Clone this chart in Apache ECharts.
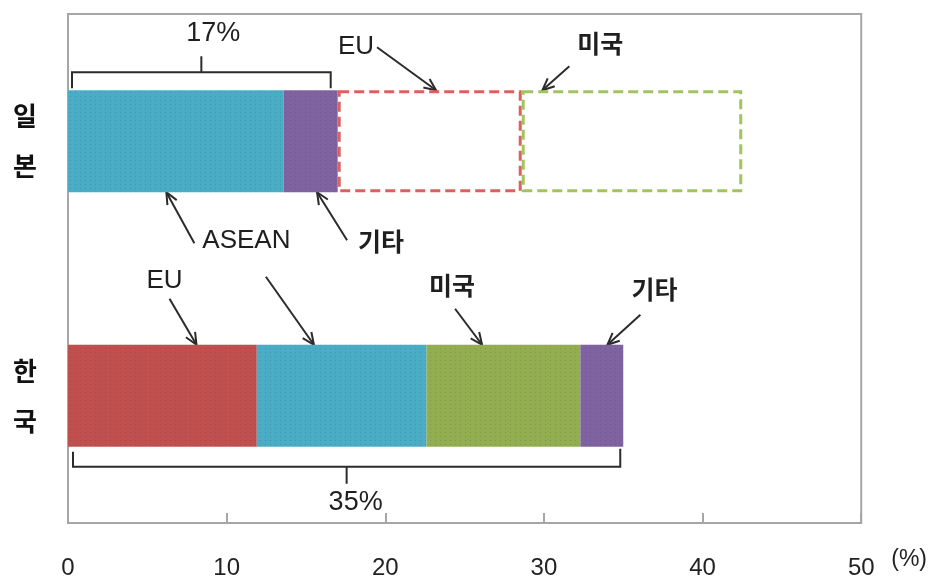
<!DOCTYPE html>
<html>
<head>
<meta charset="utf-8">
<script src="https://cdn.jsdelivr.net/npm/echarts@6/dist/echarts.min.js"></script>
<style>
  html, body { margin: 0; padding: 0; background: #fff; }
  #chart { width: 930px; height: 580px; }
</style>
</head>
<body>
<div id="chart"></div>
<script>
// Export share by destination (%), stacked in the order each bar is drawn
const countries = ['일본', '한국'];
const japanRegions = ['ASEAN', '기타', 'EU', '미국'];
const japanValues = [13.6, 3.4, 11.6, 13.9];
const koreaRegions = ['EU', 'ASEAN', '미국', '기타'];
const koreaValues = [11.9, 10.7, 9.7, 2.7];
const xTicks = [0, 10, 20, 30, 40, 50];
// how many leading Japan segments are solid (the rest are outlined)
const japanSolidCount = 2;

const fillColors = { 'ASEAN': '#4BACC6', '기타': '#7F62A0', 'EU': '#C0504D', '미국': '#93AE50' };
const dashColors = { 'EU': '#DA625E', '미국': '#A2C45E' };

const numFont = "'Liberation Sans', Arial, sans-serif";
const krFont = "'Noto Sans CJK KR', sans-serif";
const latFont = "'Liberation Sans', Arial, sans-serif";

const dots = {
  symbol: 'rect', symbolSize: 1,
  dashArrayX: [1, 4], dashArrayY: [1, 3],
  color: 'rgba(40,40,70,0.18)'
};

function segStyle(region, outlined) {
  if (outlined) {
    return { color: '#fff', borderColor: dashColors[region], borderWidth: 3, borderType: [10, 5] };
  }
  return { color: fillColors[region], decal: dots };
}

const series = japanValues.map((_, i) => ({
  type: 'bar',
  stack: 'share',
  barWidth: 102,
  silent: true,
  data: [
    { value: japanValues[i], itemStyle: segStyle(japanRegions[i], i >= japanSolidCount) },
    { value: koreaValues[i], itemStyle: segStyle(koreaRegions[i], false) }
  ]
}));

const axisGray = '#A6A6A6';
const chart = echarts.init(document.getElementById('chart'));
chart.setOption({
  animation: false,
  backgroundColor: '#fff',
  grid: { left: 68, right: 67, top: 14, bottom: 57, show: true, borderColor: axisGray, borderWidth: 2 },
  xAxis: {
    type: 'value', min: xTicks[0], max: xTicks[xTicks.length - 1], interval: 10,
    axisLine: { show: true, lineStyle: { color: axisGray, width: 2 } },
    axisTick: { show: true, inside: true, length: 10, lineStyle: { color: axisGray, width: 2 } },
    splitLine: { show: false },
    axisLabel: { margin: 33, color: '#222', fontSize: 24, fontFamily: numFont },
    name: '(%)', nameLocation: 'end', nameGap: 30,
    nameTextStyle: { color: '#222', fontSize: 23, fontFamily: numFont, verticalAlign: 'top', padding: [25, 0, 0, 0] }
  },
  yAxis: {
    type: 'category', data: countries, inverse: true,
    axisLine: { show: true, lineStyle: { color: axisGray, width: 2 } },
    axisTick: { show: false },
    axisLabel: {
      margin: 31, color: '#111', fontSize: 26, fontWeight: 'bold', fontFamily: krFont,
      lineHeight: 50, formatter: v => v.split('').join('\n')
    }
  },
  series: series
});

// ---- annotations: brackets with totals, arrows with region names ----
const px = (x, c) => chart.convertToPixel({ gridIndex: 0 }, [x, c]);
const halfBar = 51;
const japanTop = px(0, 0)[1] - halfBar;
const japanBottom = px(0, 0)[1] + halfBar;
const koreaTop = px(0, 1)[1] - halfBar;
const koreaBottom = px(0, 1)[1] + halfBar;

const ink = '#2b2b2b';
const graphics = [];

function textEl(str, x, y, font, size, weight) {
  graphics.push({
    type: 'text', silent: true,
    style: { text: str, x: x, y: y, align: 'center', verticalAlign: 'middle',
             fill: '#1f1f1f', fontSize: size, fontFamily: font, fontWeight: weight || 'normal' }
  });
}
function polyline(points, w) {
  graphics.push({ type: 'polyline', silent: true, shape: { points: points },
                  style: { stroke: ink, lineWidth: w || 2, fill: null } });
}
function arrow(x0, y0, x1, y1) {
  polyline([[x0, y0], [x1, y1]], 2);
  const ang = Math.atan2(y1 - y0, x1 - x0);
  const L = 13, spread = 0.42;
  const a = [x1 - L * Math.cos(ang - spread), y1 - L * Math.sin(ang - spread)];
  const b = [x1 - L * Math.cos(ang + spread), y1 - L * Math.sin(ang + spread)];
  polyline([a, [x1, y1], b], 2);
}

// Japan: bracket above the solid part
const japanSolid = japanValues.slice(0, japanSolidCount).reduce((s, v) => s + v, 0);
{
  const xl = px(0, 0)[0] + 4, xr = px(japanSolid, 0)[0] - 7, xm = (xl + xr) / 2;
  const yh = japanTop - 18;
  polyline([[xl, japanTop - 2], [xl, yh], [xr, yh], [xr, japanTop - 2]], 2);
  polyline([[xm, yh], [xm, yh - 16]], 2);
  textEl(Math.round(japanSolid) + '%', xm + 12, japanTop - 57, numFont, 27);
}
// Korea: bracket below the whole bar
const koreaTotal = koreaValues.reduce((s, v) => s + v, 0);
{
  const xl = px(0, 1)[0] + 5, xr = px(koreaTotal, 1)[0] - 3, xm = (xl + xr) / 2;
  const yh = koreaBottom + 20;
  polyline([[xl, koreaBottom + 5], [xl, yh], [xr, yh], [xr, koreaBottom + 2]], 2);
  polyline([[xm, yh], [xm, yh + 17]], 2);
  textEl(Math.round(koreaTotal) + '%', xm + 9, koreaBottom + 56, numFont, 27);
}

// arrows: tip sits on a bar edge at data value x; start and label offset from the tip
const arrowNotes = [
  { label: 'EU',    c: 0, x: 23.2, edge: japanTop,    sx: -59, sy: -43, lx: -80, ly: -43 },
  { label: '미국',  c: 0, x: 29.9, edge: japanTop,    sx: 27,  sy: -24, lx: 58,  ly: -47 },
  { label: 'ASEAN', c: 0, x: 6.2,  edge: japanBottom, sx: 28,  sy: 51,  lx: 80,  ly: 49 },
  { label: '기타',  c: 0, x: 15.7, edge: japanBottom, sx: 30,  sy: 48,  lx: 64,  ly: 49 },
  { label: 'EU',    c: 1, x: 8.1,  edge: koreaTop,    sx: -27, sy: -46, lx: -32, ly: -64 },
  { label: null,    c: 1, x: 15.5, edge: koreaTop,    sx: -48, sy: -68 },
  { label: '미국',  c: 1, x: 26.1, edge: koreaTop,    sx: -27, sy: -36, lx: -30, ly: -59 },
  { label: '기타',  c: 1, x: 34.0, edge: koreaTop,    sx: 33,  sy: -30, lx: 47,  ly: -55 }
];
arrowNotes.forEach(n => {
  const tx = px(n.x, n.c)[0], ty = n.edge;
  arrow(tx + n.sx, ty + n.sy, tx, ty);
  if (n.label) {
    const latin = /^[A-Z]+$/.test(n.label);
    textEl(n.label, tx + n.lx, ty + n.ly,
           latin ? latFont : krFont, latin ? 26 : 25, latin ? 'normal' : 'bold');
  }
});

chart.setOption({ graphic: graphics });
</script>
</body>
</html>
